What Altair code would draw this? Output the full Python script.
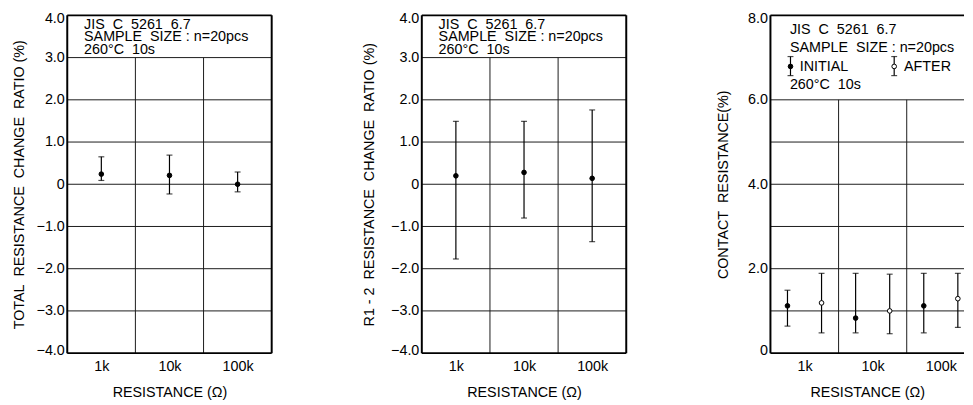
import altair as alt
import pandas as pd

NB = "\u00a0"

categories = ["1k", "10k", "100k"]

# Panel 1: TOTAL resistance change ratio (%)
p1_mean = [0.24, 0.21, 0.00]
p1_hi = [0.65, 0.69, 0.29]
p1_lo = [0.09, -0.23, -0.18]

# Panel 2: R1-2 resistance change ratio (%)
p2_mean = [0.20, 0.28, 0.14]
p2_hi = [1.49, 1.49, 1.76]
p2_lo = [-1.77, -0.80, -1.36]

# Panel 3: contact resistance (%)
p3_init_mean = [1.12, 0.83, 1.12]
p3_init_hi = [1.49, 1.89, 1.89]
p3_init_lo = [0.64, 0.48, 0.48]
p3_after_mean = [1.19, 1.00, 1.29]
p3_after_hi = [1.89, 1.87, 1.89]
p3_after_lo = [0.48, 0.46, 0.61]

W = 207
W3 = 196
H = 342
FS = 14.5
FONT = "Liberation Sans"

label_expr = "[" + ",".join("'%s'" % c for c in categories) + "][floor(datum.value)]"
y_label_expr = "datum.value == 0 ? '0' : format(datum.value, '.1f')"


def make_xaxis():
    return alt.Axis(values=[0.5, 1.5, 2.5], labelExpr=label_expr, title="RESISTANCE (Ω)",
                    labelPadding=7, titlePadding=12, labelFlush=False, grid=False,
                    ticks=False, domain=False)


def text_layer(txt, px, py):
    return alt.Chart(pd.DataFrame({"t": [txt]})).mark_text(
        align="left", baseline="alphabetic", fontSize=FS, font=FONT, color="black"
    ).encode(text="t:N", x=alt.value(px), y=alt.value(py))


def border_layers(w, right=True):
    d = pd.DataFrame({"a": [0]})
    m = dict(color="black", strokeWidth=2)
    out = [
        alt.Chart(d).mark_rule(**m).encode(x=alt.value(0), x2=alt.value(w), y=alt.value(0)),
        alt.Chart(d).mark_rule(**m).encode(x=alt.value(0), x2=alt.value(w), y=alt.value(H)),
        alt.Chart(d).mark_rule(**m).encode(x=alt.value(0), y=alt.value(0), y2=alt.value(H)),
    ]
    if right:
        out.append(alt.Chart(d).mark_rule(**m).encode(x=alt.value(w), y=alt.value(0), y2=alt.value(H)))
    return out


def errbar_layers(df, xscale, xaxis, yscale, yaxis, fill):
    X = alt.X("x:Q", scale=xscale, axis=xaxis)
    rule = alt.Chart(df).mark_rule(color="black", strokeWidth=1.2).encode(
        x=X, y=alt.Y("hi:Q", scale=yscale, axis=yaxis), y2="lo:Q")
    cap_hi = alt.Chart(df).mark_tick(orient="horizontal", size=6, thickness=1.2, color="black").encode(
        x=X, y=alt.Y("hi:Q", scale=yscale, axis=yaxis))
    cap_lo = alt.Chart(df).mark_tick(orient="horizontal", size=6, thickness=1.2, color="black").encode(
        x=X, y=alt.Y("lo:Q", scale=yscale, axis=yaxis))
    pt = alt.Chart(df).mark_point(filled=True, size=22, shape="circle", fill=fill, stroke="black",
                                  strokeWidth=1, opacity=1).encode(
        x=X, y=alt.Y("mean:Q", scale=yscale, axis=yaxis))
    return [rule, cap_hi, cap_lo, pt]


def panel(w, xmax, ymin, ymax, label_vals, grid_vals, vtop, ytitle, ytitle_pad, bar_sets, extra, right=True):
    xscale = alt.Scale(domain=[0, xmax], nice=False, zero=False)
    xaxis = make_xaxis()
    yscale = alt.Scale(domain=[ymin, ymax], nice=False, zero=False)
    yaxis = alt.Axis(values=label_vals, labelExpr=y_label_expr, title=ytitle,
                     titlePadding=ytitle_pad, labelPadding=3, grid=False,
                     labelFlush=True, labelFlushOffset=4,
                     ticks=False, domain=False)
    grid = alt.Chart(pd.DataFrame({"g": grid_vals})).mark_rule(color="#1a1a1a", strokeWidth=1).encode(
        y=alt.Y("g:Q", scale=yscale, axis=yaxis),
        x=alt.value(0), x2=alt.value(w))
    vgrid = alt.Chart(pd.DataFrame({"v": [1, 2], "bot": [ymin, ymin], "top": [vtop, vtop]})).mark_rule(
        color="#1a1a1a", strokeWidth=1).encode(
        x=alt.X("v:Q", scale=xscale, axis=xaxis),
        y=alt.Y("bot:Q", scale=yscale, axis=yaxis), y2="top:Q")
    layers = [grid, vgrid]
    for df, fill in bar_sets:
        layers += errbar_layers(df, xscale, xaxis, yscale, yaxis, fill)
    layers += extra
    layers += border_layers(w, right)
    return alt.layer(*layers).properties(width=w, height=H)


xs = [i + 0.5 for i in range(len(categories))]
df1 = pd.DataFrame({"x": xs, "mean": p1_mean, "hi": p1_hi, "lo": p1_lo})
df2 = pd.DataFrame({"x": xs, "mean": p2_mean, "hi": p2_hi, "lo": p2_lo})
df3a = pd.DataFrame({"x": [i + 0.25 for i in range(3)], "mean": p3_init_mean, "hi": p3_init_hi, "lo": p3_init_lo})
df3b = pd.DataFrame({"x": [i + 0.75 for i in range(3)], "mean": p3_after_mean, "hi": p3_after_hi, "lo": p3_after_lo})

line1 = "JIS" + NB + " C" + NB + " 5261" + NB + " 6.7"
line2 = "SAMPLE" + NB + " SIZE : n=20pcs"
line3 = "260°C" + NB + " 10s"

box_texts_12 = [text_layer(line1, 17, 13.3), text_layer(line2, 17, 26), text_layer(line3, 17, 38.8)]

ytitle1 = "TOTAL" + NB + " RESISTANCE" + NB + " CHANGE" + NB + " RATIO (%)"
ytitle2 = "R1 - 2" + NB + " RESISTANCE" + NB + " CHANGE" + NB + " RATIO (%)"
ytitle3 = "CONTACT" + NB + " RESISTANCE(%)"

YV12 = [-4, -3, -2, -1, 0, 1, 2, 3, 4]
G12 = [-3, -2, -1, 0, 1, 2, 3]
p1 = panel(W, 3, -4, 4, YV12, G12, 3, ytitle1, 9.5, [(df1, "black")], box_texts_12)
p2 = panel(W, 3, -4, 4, YV12, G12, 3, ytitle2, 14.5, [(df2, "black")], box_texts_12)


def legend_glyph(px, fill):
    d = pd.DataFrame({"a": [0]})
    r = alt.Chart(d).mark_rule(color="black", strokeWidth=1.2).encode(
        x=alt.value(px), y=alt.value(41.7), y2=alt.value(61))
    t1 = alt.Chart(d).mark_tick(orient="horizontal", size=6, thickness=1.2, color="black").encode(
        x=alt.value(px), y=alt.value(41.7))
    t2 = alt.Chart(d).mark_tick(orient="horizontal", size=6, thickness=1.2, color="black").encode(
        x=alt.value(px), y=alt.value(61))
    p = alt.Chart(d).mark_point(filled=True, size=22, shape="circle", fill=fill, stroke="black",
                                strokeWidth=1, opacity=1).encode(x=alt.value(px), y=alt.value(51.7))
    return [r, t1, t2, p]


box_texts_3 = [text_layer(line1, 19.7, 19.3), text_layer(line2, 19.7, 36.7),
               text_layer("INITIAL", 29.7, 56.7), text_layer("AFTER", 135.3, 56.7),
               text_layer(line3, 19.7, 75)] + legend_glyph(20.3, "black") + legend_glyph(125.3, "white")

p3 = panel(W3, W3 / 69.0, 0, 8, [0, 2, 4, 6, 8], [1, 2, 3, 4, 5, 6], 6,
           ytitle3, 17.5, [(df3a, "black"), (df3b, "white")], box_texts_3, right=False)

chart = alt.hconcat(p1, p2, p3, spacing=89).configure(
    font=FONT, padding={"left": 3, "top": 0, "right": 0, "bottom": 0}
).configure_view(stroke=None).configure_axis(
    labelFont=FONT, titleFont=FONT, labelFontSize=FS, titleFontSize=FS,
    labelColor="black", titleColor="black", titleFontWeight="normal"
)

chart.save("out.html", embed_options={"renderer": "svg", "actions": False})
